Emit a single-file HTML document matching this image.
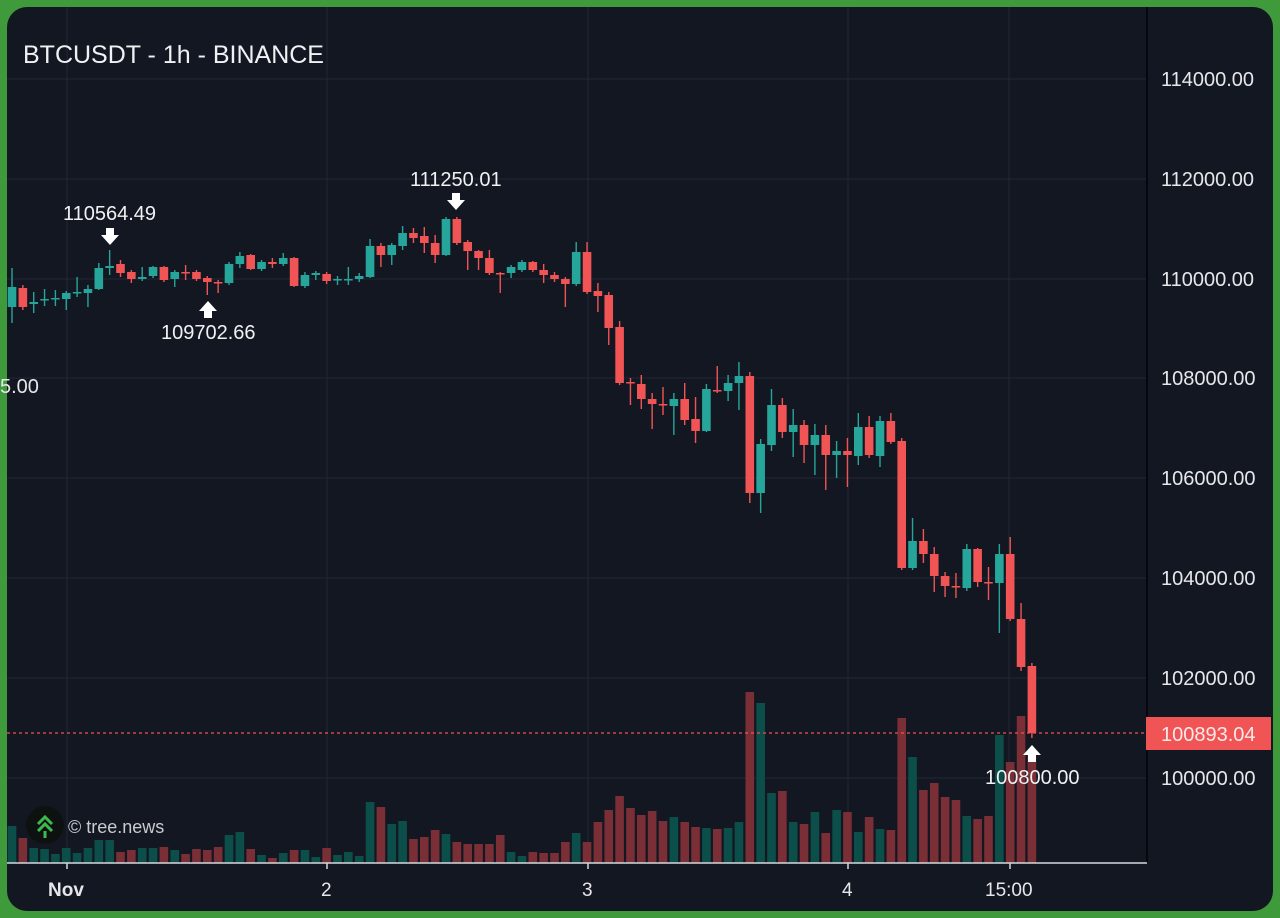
<!DOCTYPE html>
<html><head><meta charset="utf-8"><style>
html,body{margin:0;padding:0;background:#3d9a3d;width:1280px;height:918px;overflow:hidden}
svg{display:block}
text{font-family:"Liberation Sans",Arial,sans-serif}
</style></head><body>
<svg id="s" width="1280" height="918" xmlns="http://www.w3.org/2000/svg">
<rect x="0" y="0" width="1280" height="918" fill="#3f9a3c"/>
<rect x="7" y="7" width="1266" height="904" rx="20" fill="#131722"/>
<g stroke="#232734" stroke-width="1">
<line x1="7" y1="79" x2="1147" y2="79"/><line x1="7" y1="179" x2="1147" y2="179"/>
<line x1="7" y1="279" x2="1147" y2="279"/><line x1="7" y1="378" x2="1147" y2="378"/>
<line x1="7" y1="478" x2="1147" y2="478"/><line x1="7" y1="578" x2="1147" y2="578"/>
<line x1="7" y1="678" x2="1147" y2="678"/><line x1="7" y1="778" x2="1147" y2="778"/>
<line x1="67" y1="7" x2="67" y2="863"/><line x1="327" y1="7" x2="327" y2="863"/>
<line x1="588" y1="7" x2="588" y2="863"/><line x1="848" y1="7" x2="848" y2="863"/>
<line x1="1009" y1="7" x2="1009" y2="863"/>
</g>
<g id="vol"></g>
<g id="cand"></g>
<line x1="7" y1="733" x2="1147" y2="733" stroke="#ef5350" stroke-width="1.3" stroke-dasharray="3,3"/>
<line x1="1147" y1="7" x2="1147" y2="863" stroke="#05070c" stroke-width="2"/>
<line x1="7" y1="863" x2="1147" y2="863" stroke="#d6d8dc" stroke-width="1.5"/>
<g stroke="#d6d8dc" stroke-width="1.5"><line x1="67" y1="863" x2="67" y2="869"/><line x1="327" y1="863" x2="327" y2="869"/><line x1="588" y1="863" x2="588" y2="869"/><line x1="848" y1="863" x2="848" y2="869"/><line x1="1010" y1="863" x2="1010" y2="869"/></g>
<g fill="#e6e7ea" font-size="20">
<text x="1161" y="86">114000.00</text><text x="1161" y="186">112000.00</text>
<text x="1161" y="286">110000.00</text><text x="1161" y="385">108000.00</text>
<text x="1161" y="485">106000.00</text><text x="1161" y="585">104000.00</text>
<text x="1161" y="685">102000.00</text><text x="1161" y="785">100000.00</text>
<text x="0" y="393">5.00</text>
</g>
<rect x="1146" y="717" width="125" height="33" fill="#f05454"/>
<text x="1161" y="741" fill="#fbe9e9" font-size="20">100893.04</text>
<g fill="#e6e7ea" font-size="19">
<text x="48" y="896" font-weight="bold">Nov</text>
<text x="321" y="896">2</text><text x="582" y="896">3</text><text x="842" y="896">4</text>
<text x="985" y="896">15:00</text>
</g>
<text x="23" y="63" fill="#f0f1f3" font-size="25">BTCUSDT - 1h - BINANCE</text>
<g fill="#f0f1f3" font-size="20">
<text x="63" y="220">110564.49</text><text x="410" y="186">111250.01</text>
<text x="161" y="339">109702.66</text><text x="985" y="784">100800.00</text>
</g>
<g fill="#ffffff">
<path d="M106 228h8v7h5l-9 10-9-10h5z"/>
<path d="M452 193h8v7h5l-9 10-9-10h5z"/>
<path d="M204 318h8v-7h5l-9-10-9 10h5z"/>
<path d="M1028 762h8v-7h5l-9-10-9 10h5z"/>
</g>
<circle cx="45" cy="825" r="19" fill="#0d1210"/>
<g fill="none" stroke="#3dba4d" stroke-width="3"><path d="M38 824l7-7 7 7"/><path d="M38 831l7-7 7 7"/></g>
<line x1="45" y1="831" x2="45" y2="838" stroke="#3dba4d" stroke-width="3"/>
<text x="68" y="833" fill="#c9cbd0" font-size="18">© tree.news</text>
</svg>
<script>
var C=[
[287,307,268,323],[288,307,285,310,1],[304,302,292,313],[300,299,289,306],[299,298,290,306],[299,293,291,310],[293,292,277,297],[293,289,285,307],[289,268,263,290],[268,266,250,275],
[264,273,260,277,1],[272,279,270,283,1],[279,277,267,281],[276,267,266,278],[267,280,266,282,1],[279,272,270,287],[272,273,265,280,1],[272,279,270,281,1],[278,282,276,295,1],[282,282,280,293,1],
[283,264,262,285],[264,256,252,268],[255,269,254,270,1],[269,262,260,271],[262,264,258,268,1],[264,258,253,266],[258,286,257,287,1],[286,275,272,288],[275,273,271,280],[274,281,272,284,1],
[279,279,276,285],[280,279,267,285],[279,276,273,282],[277,246,239,278],[246,255,243,267,1],[255,245,243,265],[246,233,226,250],[233,238,228,243,1],[236,243,227,253,1],[243,255,235,263,1],
[255,219,217,256],[219,243,217,245,1],[242,251,240,270,1],[251,258,250,270,1],[258,273,250,275,1],[273,273,272,293,1],[273,267,265,278],[270,262,260,272],[262,270,261,272,1],[270,275,264,283,1],
[275,279,272,282,1],[279,284,277,307,1],[284,252,242,286],[252,292,242,294,1],[291,296,283,312,1],[295,328,292,345,1],[327,383,321,385,1],[382,383,378,405,1],[384,399,375,409,1],[399,404,393,429,1],
[404,404,387,415,1],[406,399,393,435],[399,420,383,425,1],[419,431,397,443,1],[431,389,384,432],[390,390,366,393,1],[391,383,375,401],[383,376,362,410],[376,493,372,503,1],[493,444,439,513],
[445,405,389,451],[405,432,398,438,1],[432,425,409,457],[425,445,420,463,1],[445,435,424,475],[435,455,425,490,1],[455,451,441,478],[451,455,438,487,1],[456,427,413,465],[427,455,416,458,1],
[456,421,416,467],[421,442,413,444,1],[441,568,438,570,1],[568,541,518,570],[541,554,529,563,1],[554,576,547,592,1],[576,586,572,597,1],[586,586,573,598,1],[588,549,544,591],[549,582,548,587,1],
[582,582,567,600,1],[583,554,544,633],[554,619,537,621,1],[619,667,603,671,1],[666,733,663,738,1]];
var V=[[826,0],[838,1],[848,0],[849,0],[854,0],[848,0],[853,0],[848,0],[840,0],[840,0],[852,1],[850,1],[848,0],[848,0],[847,1],[850,0],[854,1],[849,1],[850,1],[847,1],
[835,0],[832,0],[849,1],[855,0],[858,1],[853,0],[850,1],[850,0],[857,0],[848,1],[855,0],[852,0],[856,0],[802,0],[807,1],[824,0],[821,0],[839,1],[837,1],[830,1],
[834,0],[842,1],[844,1],[844,1],[844,1],[835,1],[852,0],[856,0],[852,1],[853,1],[853,1],[842,1],[833,0],[842,1],[822,1],[810,1],[796,1],[808,1],[815,1],[811,1],
[821,1],[817,0],[822,1],[827,1],[828,0],[829,1],[828,0],[822,0],[692,1],[703,0],[793,0],[791,1],[822,0],[824,1],[812,0],[833,1],[810,0],[812,1],[832,0],[817,1],
[829,0],[830,1],[718,1],[757,0],[790,1],[783,1],[797,1],[800,1],[816,0],[819,1],[816,1],[735,0],[762,1],[716,1],[750,1]];
var ns="http://www.w3.org/2000/svg";
function el(p,t,a){var e=document.createElementNS(ns,t);for(var k in a)e.setAttribute(k,a[k]);p.appendChild(e);}
var cg=document.getElementById('cand'),vg=document.getElementById('vol');
for(var i=0;i<C.length;i++){var x=12+10.85*i,c=C[i],col=c[4]?'#f05454':'#26a69a';
el(cg,'line',{x1:x,x2:x,y1:c[2],y2:c[3],stroke:col,'stroke-width':1.4});
var t=Math.min(c[0],c[1]),h=Math.max(Math.abs(c[0]-c[1]),1.5);
el(cg,'rect',{x:x-4.3,y:t,width:8.6,height:h,fill:col});}
for(var i=0;i<V.length;i++){var x=12+10.85*i,v=V[i];
el(vg,'rect',{x:x-4.3,y:v[0],width:8.6,height:863-v[0],fill:v[1]?'#7a2e36':'#0c4e49'});}
</script>
</body></html>
